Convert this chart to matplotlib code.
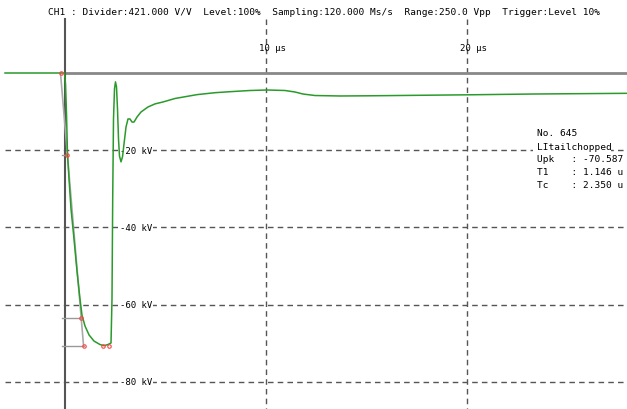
import matplotlib.pyplot as plt
import numpy as np

# Waveform readout (time in us, voltage in kV)
t_us = [-2.985, -0.149, -0.025, 0.025, 0.075, 0.124, 0.199, 0.299, 0.448, 0.597,
        0.746, 0.846, 0.995, 1.194, 1.443, 1.741, 1.940, 2.139, 2.289, 2.338,
        2.373, 2.413, 2.463, 2.512, 2.562, 2.612, 2.662, 2.711, 2.786, 2.861,
        2.935, 3.035, 3.134, 3.234, 3.333, 3.433, 3.582, 3.781, 4.129, 4.478,
        4.876, 5.473, 6.567, 7.463, 8.209, 9.204, 10.05, 10.945, 11.443, 11.841,
        12.438, 13.682, 15.174, 17.662, 20.149, 23.28, 27.96]
v_kv = [0.0, 0.0, 0.0, -2.85, -10.6, -21.0, -27.4, -35.2, -43.0, -51.3,
        -58.5, -62.7, -65.5, -67.8, -69.4, -70.3, -70.6, -70.3, -69.9, -58.5,
        -32.6, -11.9, -4.1, -2.3, -3.6, -9.3, -17.1, -21.5, -23.0, -21.7,
        -18.4, -14.0, -11.9, -11.9, -12.7, -12.7, -11.4, -10.1, -8.8, -8.0,
        -7.5, -6.6, -5.6, -5.1, -4.84, -4.53, -4.40, -4.53, -4.92, -5.44,
        -5.83, -5.95, -5.90, -5.77, -5.64, -5.44, -5.26]

# Evaluation results
upk = -70.587
t1 = 1.146
tc = 2.350
t30 = 0.12
t90 = t30 + t1 / 1.67
o1 = t30 - 0.3 * t1
marker_t = [o1, t30, t90, o1 + t1, 1.90, 2.20]
marker_v = [0.0, 0.3 * upk, 0.9 * upk, upk, upk, upk]

grid_kv = [-20, -40, -60, -80]
grid_us = [10, 20]
header = ("CH1 : Divider:421.000 V/V  Level:100%  Sampling:120.000 Ms/s  "
          "Range:250.0 Vpp  Trigger:Level 10%")
info_lines = ["No. 645", "LItailchopped", "Upk   : -70.587", "T1    : 1.146 u", "Tc    : 2.350 u"]

W, H = 627, 410
fig = plt.figure(figsize=(W / 100, H / 100), dpi=100)
ax = fig.add_axes([0, 0, 1, 1])
ax.set_xlim(-65 / 20.1, (W - 65) / 20.1)
ax.set_ylim(-(H - 74) / 3.8625, 74 / 3.8625)
ax.axis('off')

mono = 'DejaVu Sans Mono'
x_left = -60 / 20.1
v_top = (74 - 20) / 3.8625
v_bot = -(H - 74) / 3.8625

# --- grid ---
for v in grid_kv:
    ax.plot([x_left, 30], [v, v], color='#555555', lw=1, dashes=(4, 3), zorder=1)
    ax.text(2.72, v, f"{v} kV", fontsize=6.5, family=mono, ha='left', va='center',
            bbox=dict(facecolor='white', edgecolor='none', pad=1), zorder=2)
for t in grid_us:
    ax.plot([t, t], [v_top, v_bot], color='#555555', lw=1, dashes=(4, 3), zorder=1)
    ax.text(t - 0.35, 6.7, f"{t} µs", fontsize=6.5, family=mono, ha='left', va='center')

# axes lines
ax.plot([0, 30], [0, 0], color='#888888', lw=2, zorder=3)
ax.plot([0, 0], [v_top, v_bot], color='#555555', lw=1.5, zorder=3)

# --- front evaluation helpers ---
ax.plot([o1, o1 + t1], [0, upk], color='#aaaaaa', lw=1.2, zorder=4)
ax.plot([-0.15, t30], [0.3 * upk] * 2, color='#999999', lw=1, zorder=4)
ax.plot([-0.15, t90], [0.9 * upk] * 2, color='#999999', lw=1, zorder=4)
ax.plot([-0.15, o1 + t1], [upk, upk], color='#999999', lw=1, zorder=4)

# --- waveform ---
ax.plot(t_us, v_kv, color='#2a9a2a', lw=1.1, zorder=5)
ax.plot(marker_t, marker_v, 'o', ms=2.5, mfc='none', mec='#ff4444', mew=0.8, zorder=6)

# --- header and info box ---
fig.text(48 / W, 1 - 12.5 / H, header, fontsize=6.8, family=mono, ha='left', va='center')
fig.patches.append(plt.Rectangle((533 / W, 1 - 192 / H), 78 / W, 64 / H,
                                 transform=fig.transFigure, facecolor='white',
                                 edgecolor='none', zorder=7))
for i, line in enumerate(info_lines):
    fig.text(537 / W, 1 - (134 + 13 * i) / H, line, fontsize=6.8, family=mono,
             ha='left', va='center', zorder=8)

fig.savefig('out.png', dpi=100)
